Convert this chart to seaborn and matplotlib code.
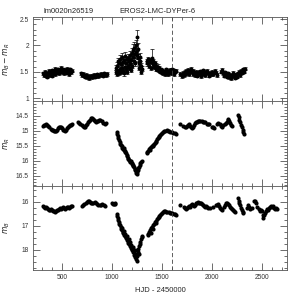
import numpy as np
import matplotlib
matplotlib.use("Agg")
import matplotlib.pyplot as plt
import seaborn as sns
from matplotlib.ticker import MultipleLocator

# colour index B - R (top panel)
hjd_color = [313, 320, 328, 335, 342, 350, 358, 365, 372, 380, 388, 395, 402, 410, 418, 425, 432, 440, 448, 455,
             462, 470, 478, 485, 492, 500, 508, 515, 522, 530, 538, 545, 552, 560, 568, 575, 582, 590, 597,
             685, 695, 705, 715, 725, 735, 745, 755, 765, 775, 785, 795, 805, 815, 825, 835, 845, 860, 875, 890,
             905, 920, 935, 945,
             1035, 1040, 1045, 1050, 1055, 1060, 1065, 1070, 1075, 1080, 1085, 1090, 1095, 1100, 1105, 1110, 1115,
             1120, 1125, 1130, 1135, 1140, 1145, 1150, 1155, 1160, 1165, 1170, 1175, 1180, 1185, 1190, 1195, 1200,
             1205, 1210, 1215, 1220, 1225, 1230, 1235, 1240, 1245, 1250, 1255, 1260, 1265, 1270, 1275, 1280, 1285,
             1290, 1295,
             1345, 1352, 1360, 1367, 1375, 1382, 1390, 1397, 1405, 1412, 1420, 1428, 1435, 1442, 1450, 1458, 1465,
             1472, 1480, 1488, 1495, 1503, 1510, 1518, 1525, 1533, 1540, 1548, 1555, 1562, 1570, 1578, 1585, 1593,
             1600, 1608, 1615, 1622, 1630, 1638,
             1680, 1700, 1710, 1718, 1726, 1734, 1742, 1750, 1758, 1766, 1774, 1782, 1790, 1798, 1806, 1814, 1822,
             1830, 1838, 1846, 1854, 1862, 1870, 1878, 1886, 1894, 1902, 1910, 1918, 1926, 1934, 1942, 1950, 1958,
             1966, 1975, 1985, 2000, 2012, 2025, 2038, 2050,
             2085, 2095, 2105, 2115, 2125, 2135, 2145, 2155, 2165, 2175, 2185, 2195, 2205, 2215, 2225, 2235, 2245,
             2255, 2265, 2275, 2285, 2295, 2305, 2315, 2325]
color = [1.47, 1.44, 1.50, 1.43, 1.46, 1.41, 1.48, 1.44, 1.52, 1.45, 1.49, 1.43, 1.53, 1.47, 1.50, 1.56, 1.46, 1.52, 1.48, 1.55,
         1.50, 1.47, 1.53, 1.58, 1.51, 1.49, 1.55, 1.52, 1.47, 1.54, 1.50, 1.56, 1.48, 1.53, 1.46, 1.51, 1.55, 1.49, 1.52,
         1.47, 1.44, 1.46, 1.43, 1.41, 1.44, 1.40, 1.42, 1.38, 1.41, 1.43, 1.40, 1.42, 1.44, 1.41, 1.43, 1.45, 1.42, 1.44, 1.46,
         1.43, 1.47, 1.44, 1.46,
         1.50, 1.58, 1.46, 1.62, 1.52, 1.70, 1.48, 1.66, 1.55, 1.75, 1.50, 1.64, 1.58, 1.78, 1.52, 1.68, 1.47,
         1.72, 1.60, 1.80, 1.55, 1.66, 1.74, 1.50, 1.62, 1.76, 1.58, 1.70, 1.82, 1.64, 1.53, 1.72, 1.86, 1.62,
         1.78, 1.92, 1.70, 1.96, 1.84, 1.66, 1.88, 2.00, 2.16, 1.82, 1.94, 1.76, 1.66, 1.58, 1.70, 1.78, 1.62,
         1.50, 1.56,
         1.70, 1.66, 1.74, 1.62, 1.68, 1.72, 1.58, 1.76, 1.64, 1.70, 1.60, 1.66, 1.56, 1.62, 1.54, 1.60, 1.52,
         1.57, 1.50, 1.55, 1.48, 1.53, 1.47, 1.51, 1.45, 1.50, 1.55, 1.48, 1.52, 1.46, 1.50, 1.54, 1.47, 1.51,
         1.55, 1.49, 1.53, 1.46, 1.50, 1.52,
         1.46, 1.42, 1.48, 1.44, 1.50, 1.46, 1.52, 1.47, 1.54, 1.49, 1.45, 1.51, 1.56, 1.50, 1.46, 1.52, 1.48,
         1.44, 1.50, 1.47, 1.43, 1.49, 1.45, 1.51, 1.47, 1.42, 1.48, 1.53, 1.46, 1.50, 1.44, 1.49, 1.52, 1.47,
         1.43, 1.48, 1.45, 1.50, 1.46, 1.52, 1.48, 1.44,
         1.50, 1.54, 1.47, 1.43, 1.49, 1.45, 1.41, 1.47, 1.40, 1.44, 1.38, 1.43, 1.48, 1.42, 1.39, 1.45, 1.41,
         1.47, 1.50, 1.44, 1.52, 1.48, 1.55, 1.50, 1.56]
color_err = [0.03] * 63 + [0.04, 0.05, 0.04, 0.06, 0.04, 0.06, 0.04, 0.05, 0.04, 0.07, 0.04, 0.05, 0.05, 0.07,
                           0.04, 0.06, 0.04, 0.06, 0.05, 0.08, 0.04, 0.05, 0.06, 0.04, 0.05, 0.07, 0.05, 0.06,
                           0.08, 0.05, 0.04, 0.06, 0.09, 0.05, 0.07, 0.10, 0.06, 0.10, 0.08, 0.05, 0.09, 0.11,
                           0.14, 0.08, 0.10, 0.07, 0.05, 0.05, 0.06, 0.07, 0.05, 0.04, 0.05] \
    + [0.05, 0.04, 0.05, 0.04, 0.04, 0.05, 0.04, 0.18, 0.04, 0.05, 0.04, 0.04, 0.04, 0.04, 0.03, 0.04, 0.03,
       0.04, 0.03, 0.03, 0.03, 0.03, 0.03, 0.03, 0.03, 0.03, 0.03, 0.03, 0.03, 0.03, 0.03, 0.03, 0.03, 0.03,
       0.03, 0.03, 0.03, 0.03, 0.03, 0.03] + [0.03] * 42 + [0.03] * 25

# red magnitude (middle panel)
hjd_r = [313, 322, 330, 340, 350, 360, 372, 385, 395, 405, 415, 425, 435, 445, 455, 465, 475, 485, 495, 505,
         515, 525, 535, 545, 555, 565, 575, 585, 595,
         662, 672, 682, 695, 705, 715, 725, 735, 745, 755, 765, 775, 785, 795, 805, 815, 825, 835, 845, 858,
         870, 882, 895, 910, 925, 935,
         1047, 1052, 1058, 1064, 1070, 1076, 1082, 1088, 1095, 1100, 1108, 1115, 1120, 1127, 1133, 1140, 1145,
         1150, 1156, 1162, 1168, 1175, 1182, 1188, 1195, 1200, 1207, 1213, 1220, 1226, 1232, 1238, 1243, 1248,
         1252, 1256, 1262, 1268, 1275, 1283, 1292, 1298,
         1345, 1352, 1360, 1368, 1375, 1382, 1390, 1398, 1405, 1412, 1420, 1428, 1435, 1442, 1450, 1458, 1465,
         1473, 1480, 1490, 1500, 1510, 1520, 1532, 1545, 1558, 1570, 1583, 1597, 1610, 1625, 1635,
         1680, 1712, 1725, 1735, 1745, 1755, 1765, 1775, 1785, 1795, 1805, 1815, 1825, 1835, 1845, 1858, 1870,
         1882, 1895, 1908, 1920, 1932, 1945, 1958, 1965, 1998, 2008, 2020, 2050, 2062, 2075, 2090, 2100, 2112,
         2125, 2135, 2145, 2155, 2163, 2172, 2182, 2192, 2200,
         2258, 2266, 2274, 2282, 2290, 2298, 2305, 2312, 2316]
mag_r = [14.85, 14.82, 14.80, 14.79, 14.81, 14.84, 14.88, 14.93, 14.97, 14.99, 15.01, 15.02, 15.00, 14.96, 14.92,
         14.89, 14.87, 14.88, 14.92, 14.96, 14.99, 15.00, 14.96, 14.90, 14.86, 14.83, 14.81, 14.80, 14.79,
         14.72, 14.74, 14.76, 14.80, 14.84, 14.87, 14.86, 14.82, 14.77, 14.72, 14.68, 14.63, 14.59, 14.58, 14.61,
         14.64, 14.68, 14.70, 14.69, 14.66, 14.64, 14.65, 14.69, 14.73, 14.76, 14.75,
         15.04, 15.10, 15.17, 15.25, 15.32, 15.38, 15.43, 15.47, 15.52, 15.56, 15.60, 15.58, 15.63, 15.66, 15.70,
         15.74, 15.80, 15.85, 15.90, 15.94, 15.97, 16.00, 16.05, 16.02, 16.08, 16.12, 16.17, 16.14, 16.22, 16.27,
         16.31, 16.35, 16.40, 16.44, 16.38, 16.30, 16.25, 16.21, 16.15, 16.08, 16.03, 16.00,
         15.75, 15.70, 15.66, 15.62, 15.59, 15.63, 15.55, 15.52, 15.48, 15.50, 15.44, 15.40, 15.36, 15.33, 15.28,
         15.25, 15.20, 15.16, 15.13, 15.10, 15.07, 15.04, 15.02, 15.00, 14.99, 15.00, 15.02, 15.03, 15.04, 15.06,
         15.09, 15.10,
         14.77, 14.83, 14.87, 14.89, 14.85, 14.81, 14.79, 14.83, 14.88, 14.91, 14.86, 14.80, 14.75, 14.72, 14.70,
         14.68, 14.67, 14.66, 14.69, 14.71, 14.70, 14.72, 14.76, 14.78, 14.77, 14.86, 14.88, 14.91, 14.76, 14.73,
         14.78, 14.85, 14.86, 14.82, 14.79, 14.75, 14.70, 14.65, 14.62, 14.68, 14.75, 14.80, 14.84,
         14.47, 14.55, 14.63, 14.72, 14.80, 14.88, 14.96, 15.05, 15.10]

# blue magnitude (bottom panel)
hjd_b = [313, 322, 332, 342, 352, 362, 372, 382, 392, 402, 412, 422, 432, 442, 452, 462, 472, 482, 492, 502,
         512, 522, 532, 542, 552, 562, 572, 582, 592, 600,
         697, 710, 722, 735, 748, 760, 770, 780, 790, 800, 812, 825, 838, 850, 862, 875, 888, 900, 915, 928,
         995, 1005, 1015, 1025, 1032,
         1047, 1052, 1058, 1063, 1068, 1073, 1078, 1085, 1090, 1095, 1100, 1105, 1110, 1115, 1120, 1125, 1130,
         1135, 1140, 1145, 1150, 1155, 1160, 1165, 1170, 1175, 1180, 1185, 1190, 1195, 1200, 1205, 1210, 1215,
         1220, 1225, 1230, 1235, 1240, 1245, 1250, 1255, 1260, 1265, 1270, 1275, 1280, 1288, 1295, 1300,
         1355, 1362, 1370, 1378, 1385, 1392, 1398, 1405, 1412, 1420, 1428, 1435, 1442, 1450, 1458, 1466, 1474,
         1482, 1490, 1500, 1510, 1520, 1530, 1540, 1552, 1565, 1578, 1590, 1602, 1615, 1628, 1638,
         1680, 1715, 1725, 1735, 1745, 1755, 1765, 1775, 1785, 1795, 1805, 1815, 1825, 1835, 1845, 1855, 1865,
         1875, 1885, 1895, 1905, 1915, 1925, 1935, 1948, 1960, 1980, 2010, 2040, 2050, 2060, 2070, 2080, 2090,
         2100, 2115, 2125, 2135, 2145, 2155, 2165, 2175, 2185, 2195, 2205, 2215, 2225,
         2258, 2265, 2272, 2280, 2288, 2296, 2305, 2312, 2345, 2360, 2372, 2385, 2398, 2420, 2428, 2440, 2455,
         2470, 2480, 2490, 2500, 2510, 2515, 2522, 2530, 2540, 2550, 2560, 2570, 2580, 2590, 2600, 2610, 2620,
         2630, 2640, 2650]
mag_b = [16.17, 16.20, 16.24, 16.22, 16.27, 16.30, 16.33, 16.35, 16.31, 16.36, 16.40, 16.38, 16.42, 16.39, 16.36,
         16.33, 16.30, 16.27, 16.29, 16.25, 16.22, 16.26, 16.30, 16.27, 16.23, 16.21, 16.24, 16.20, 16.18, 16.19,
         16.19, 16.15, 16.10, 16.06, 16.02, 15.98, 15.95, 15.99, 16.04, 16.07, 16.05, 16.02, 16.06, 16.10, 16.13,
         16.15, 16.12, 16.09, 16.14, 16.18, 16.06, 16.08, 16.10, 16.07, 16.09,
         16.50, 16.58, 16.66, 16.75, 16.84, 16.92, 16.98, 17.05, 17.12, 17.18, 17.08, 17.24, 17.30, 17.22, 17.36,
         17.42, 17.32, 17.50, 17.46, 17.58, 17.40, 17.63, 17.70, 17.55, 17.75, 17.68, 17.82, 17.90, 17.78, 17.95,
         18.02, 17.88, 18.10, 18.05, 18.20, 18.00, 18.30, 18.15, 18.38, 18.25, 18.45, 18.10, 17.98, 18.18, 17.85,
         17.75, 17.65, 17.55, 17.45, 17.40,
         17.38, 17.32, 17.25, 17.18, 17.30, 17.10, 17.05, 17.12, 16.98, 16.92, 16.85, 16.88, 16.78, 16.72, 16.68,
         16.62, 16.58, 16.55, 16.50, 16.46, 16.43, 16.40, 16.39, 16.41, 16.43, 16.44, 16.46, 16.45, 16.48, 16.50,
         16.52, 16.53,
         16.12, 16.20, 16.25, 16.28, 16.26, 16.21, 16.17, 16.20, 16.14, 16.10, 16.13, 16.16, 16.12, 16.07, 16.04,
         16.02, 16.05, 16.03, 16.06, 16.10, 16.14, 16.18, 16.20, 16.17, 16.22, 16.26, 16.24, 16.20, 16.15, 16.12,
         16.08, 16.18, 16.25, 16.30, 16.33, 16.20, 16.12, 16.06, 16.03, 16.08, 16.15, 16.20, 16.26, 16.28, 16.33,
         16.38, 16.42,
         15.85, 15.95, 16.05, 16.15, 16.25, 16.35, 16.42, 16.47, 16.25, 16.15, 16.20, 16.28, 16.24, 15.95, 15.98,
         16.05, 16.20, 16.30, 16.38, 16.33, 16.40, 16.55, 16.68, 16.55, 16.45, 16.38, 16.30, 16.35, 16.25, 16.20,
         16.18, 16.22, 16.17, 16.24, 16.28, 16.25, 16.30]

sns.set_style("ticks")
plt.rcParams['font.family'] = ['Liberation Sans', 'DejaVu Sans']

fig, axes = plt.subplots(3, 1, figsize=(3.04, 3.04), dpi=100, sharex=True)
fig.subplots_adjust(left=0.109, right=0.944, top=0.944, bottom=0.112, hspace=0)
ax1, ax2, ax3 = axes

ax1.errorbar(hjd_color, color, yerr=color_err, fmt='none', ecolor='black', elinewidth=0.5, capsize=1.2, capthick=0.5)
sns.scatterplot(x=hjd_color, y=color, ax=ax1, color='black', s=8, linewidth=0)
sns.scatterplot(x=hjd_r, y=mag_r, ax=ax2, color='black', s=9, linewidth=0)
sns.scatterplot(x=hjd_b, y=mag_b, ax=ax3, color='black', s=9, linewidth=0)

ax1.set_ylim(0.94, 2.54)
ax2.set_ylim(16.83, 14.02)
ax3.set_ylim(18.83, 15.33)
ax3.set_xlim(210, 2750)

ax1.yaxis.set_major_locator(MultipleLocator(0.5))
ax1.yaxis.set_minor_locator(MultipleLocator(0.1))
ax2.yaxis.set_major_locator(MultipleLocator(0.5))
ax2.yaxis.set_minor_locator(MultipleLocator(0.1))
ax3.yaxis.set_major_locator(MultipleLocator(1))
ax3.yaxis.set_minor_locator(MultipleLocator(0.25))

for ax in axes:
    ax.axvline(1600, color='#444444', lw=0.6, ls=(0, (5, 3)))
    ax.xaxis.set_major_locator(MultipleLocator(500))
    ax.xaxis.set_minor_locator(MultipleLocator(100))
    ax.tick_params(which='both', direction='in', top=True, right=True, labelsize=4.8, pad=3, width=0.5, colors='#333333')
    ax.tick_params(which='major', length=5)
    ax.tick_params(which='minor', length=2.5)
    for sp in ax.spines.values():
        sp.set_linewidth(0.6)
        sp.set_color('#555555')

ax1.yaxis.set_major_formatter(plt.FuncFormatter(lambda v, p: f'{v:g}'))
ax2.yaxis.set_major_formatter(plt.FuncFormatter(lambda v, p: f'{v:g}'))

ax1.set_ylabel(r'$m_B - m_R$', fontsize=5.5)
ax2.set_ylabel(r'$m_R$', fontsize=5.5)
ax3.set_ylabel(r'$m_B$', fontsize=5.5)
for ax in axes:
    ax.yaxis.set_label_coords(-0.085, 0.5)
ax3.set_xlabel('HJD - 2450000', fontsize=5.5, labelpad=4)

ax1.text(0.04, 1.02, 'lm0020n26519', transform=ax1.transAxes, fontsize=5.5, ha='left', va='bottom')
ax1.text(0.49, 1.02, 'EROS2-LMC-DYPer-6', transform=ax1.transAxes, fontsize=5.5, ha='center', va='bottom')

fig.savefig('out.png', dpi=100)
